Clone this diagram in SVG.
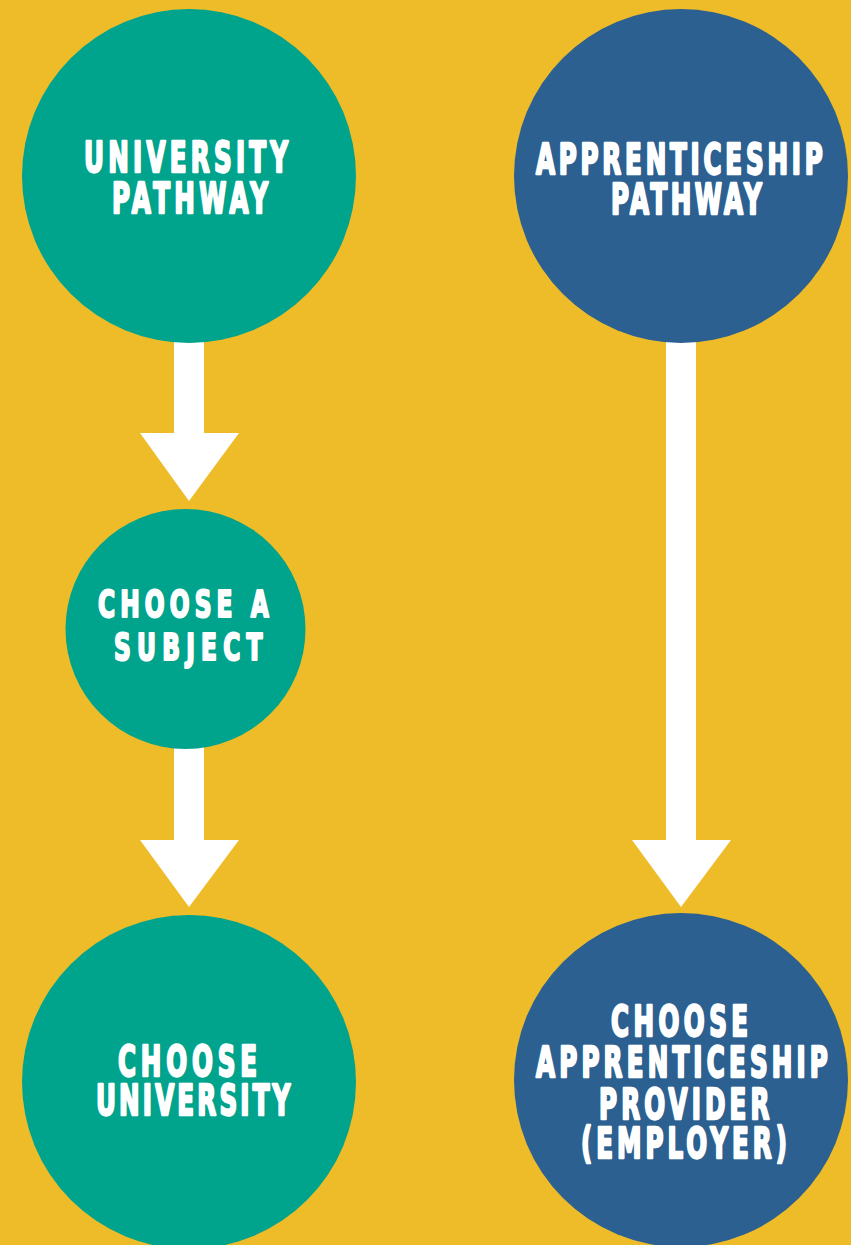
<svg xmlns="http://www.w3.org/2000/svg" width="851" height="1245" viewBox="0 0 851 1245">
<style>
.bg{fill:#EEBC29}
.teal{fill:#00A38C}
.blue{fill:#2B6091}
.arrow{fill:#FFFFFF}
.lbl{fill:#FFFFFF;stroke:#FFFFFF;stroke-width:2.4px;stroke-linejoin:round;font-family:"DejaVu Sans Condensed","DejaVu Sans","Liberation Sans",sans-serif;font-weight:bold;font-size:42px}
.sm{font-size:37px;stroke-width:2.2px}
</style>
<rect class="bg" x="0" y="0" width="851" height="1245"/>
<g id="connectors">
<polygon class="arrow" points="174,340 204,340 204,433 239,433 189,501 140,433 174,433"/>
<polygon class="arrow" points="174,745 204,745 204,840 239,840 189,907 140,840 174,840"/>
<polygon class="arrow" points="666,340 696,340 696,840 731,840 681,907 632,840 666,840"/>
</g>
<g id="university-pathway">
<circle class="teal" cx="189" cy="176" r="167"/>
<text class="lbl" transform="translate(84,172) scale(0.65,1)" x="0" y="0" textLength="314" lengthAdjust="spacing">UNIVERSITY</text>
<text class="lbl" transform="translate(112,213) scale(0.65,1)" x="0" y="0" textLength="240" lengthAdjust="spacing">PATHWAY</text>
</g>
<g id="apprenticeship-pathway">
<circle class="blue" cx="681" cy="176" r="167"/>
<text class="lbl" transform="translate(536,174) scale(0.65,1)" x="0" y="0" textLength="441" lengthAdjust="spacing">APPRENTICESHIP</text>
<text class="lbl" transform="translate(611,214) scale(0.65,1)" x="0" y="0" textLength="232" lengthAdjust="spacing">PATHWAY</text>
</g>
<g id="choose-subject">
<circle class="teal" cx="185.5" cy="629" r="120"/>
<text class="lbl sm" transform="translate(98,617) scale(0.7,1)" x="0" y="0" textLength="244" lengthAdjust="spacing">CHOOSE A</text>
<text class="lbl sm" transform="translate(114,660) scale(0.7,1)" x="0" y="0" textLength="212" lengthAdjust="spacing">SUBJECT</text>
</g>
<g id="choose-university">
<circle class="teal" cx="189" cy="1082" r="167"/>
<text class="lbl" transform="translate(118,1076) scale(0.65,1)" x="0" y="0" textLength="214" lengthAdjust="spacing">CHOOSE</text>
<text class="lbl" transform="translate(96,1115) scale(0.65,1)" x="0" y="0" textLength="299" lengthAdjust="spacing">UNIVERSITY</text>
</g>
<g id="choose-provider">
<circle class="blue" cx="681" cy="1080" r="167"/>
<text class="lbl" transform="translate(611,1036) scale(0.65,1)" x="0" y="0" textLength="211" lengthAdjust="spacing">CHOOSE</text>
<text class="lbl" transform="translate(536,1077) scale(0.65,1)" x="0" y="0" textLength="449" lengthAdjust="spacing">APPRENTICESHIP</text>
<text class="lbl" transform="translate(599,1119) scale(0.65,1)" x="0" y="0" textLength="262" lengthAdjust="spacing">PROVIDER</text>
<text class="lbl" transform="translate(581,1158) scale(0.65,1)" x="0" y="0" textLength="317" lengthAdjust="spacing">(EMPLOYER)</text>
</g>
</svg>
